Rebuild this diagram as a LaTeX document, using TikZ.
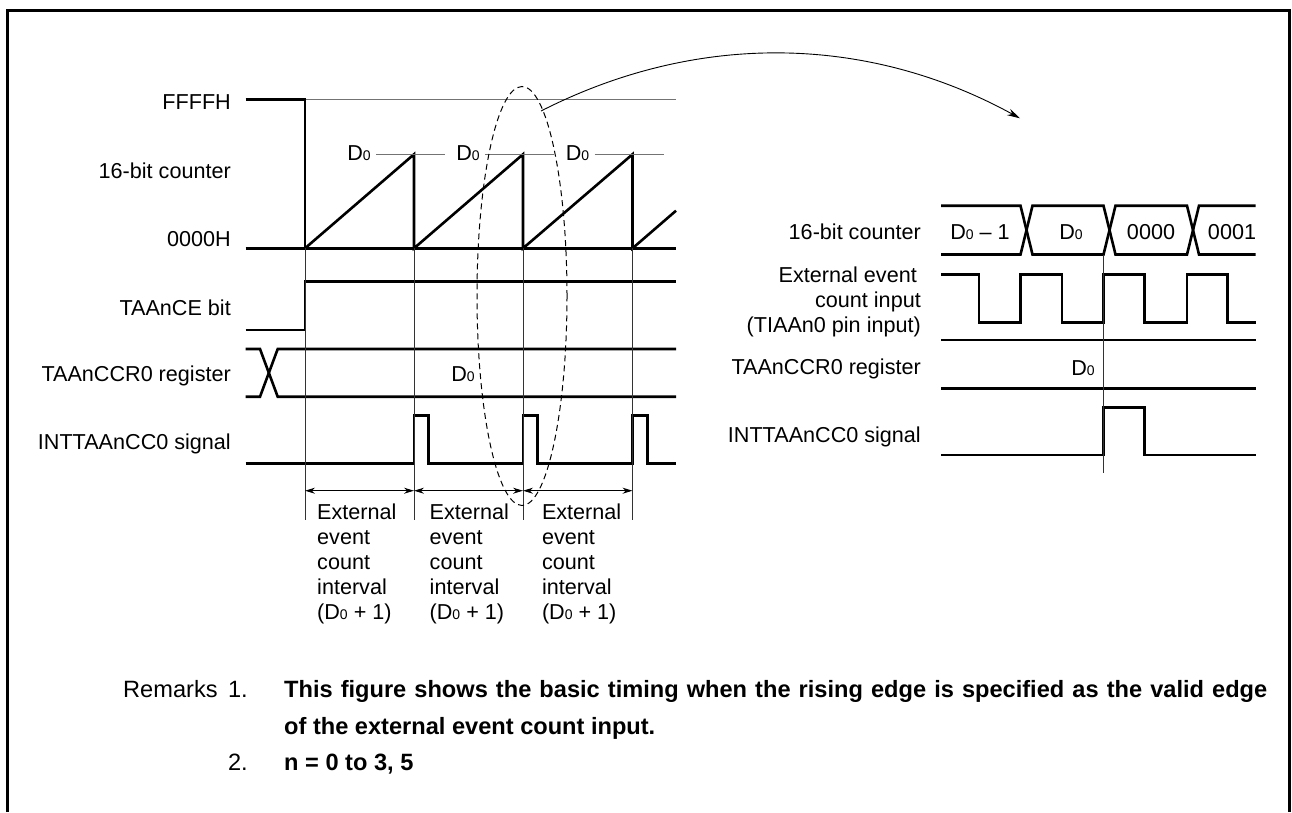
\documentclass[tikz,border=0pt]{standalone}
\usepackage{fontspec}
\setmainfont{Liberation Sans}
\usepackage{tikz}
\usetikzlibrary{arrows.meta,positioning,calc}

\newcommand{\Dz}{D{\fontsize{14}{14}\selectfont 0}}

\begin{document}
\begin{tikzpicture}[
  x=1pt, y=-1pt,
  lbl/.style={anchor=base east, inner sep=0pt, font=\fontsize{21.6}{25}\selectfont},
  val/.style={anchor=base, inner sep=0pt, font=\fontsize{21.6}{25}\selectfont},
  note/.style={anchor=north west, inner sep=0pt, align=left, font=\fontsize{21.6}{25}\selectfont},
  rmk/.style={anchor=base west, inner sep=0pt, font=\fontsize{23.6}{28}\selectfont\bfseries},
  rmkno/.style={inner sep=0pt, font=\fontsize{23.6}{28}\selectfont},
  sig/.style={line width=2.6pt, line join=miter},
  level/.style={line width=1pt, black!55},
  guide/.style={line width=0.9pt, black!80},
  span/.style={{Stealth[length=10pt,width=6pt]}-{Stealth[length=10pt,width=6pt]}, line width=0.9pt},
  zoomarr/.style={-{Stealth[length=13pt,width=7pt]}, line width=0.9pt}
]
  \useasboundingbox (0,0) rectangle (1292,812);
  \draw[line width=3.5pt] (7.5,812) -- (7.5,10.5) -- (1289.5,10.5) -- (1289.5,812);

  \node[lbl] (ffff) at (231,109) {FFFFH};
  \node[lbl] (cntl) at (231,178) {16-bit counter};
  \node[lbl] (zero) at (231,246.5) {0000H};
  \node[lbl] (ceb) at (231,315) {TAAnCE bit};
  \node[lbl] (ccrl) at (231,381.5) {TAAnCCR0 register};
  \node[lbl] (intl) at (231,449) {INTTAAnCC0 signal};

  \draw[level] (305,99.3) -- (676,99.3);
  \draw[sig] (245.5,99.3) -- (305,99.3) -- (305,248.3);
  \draw[sig] (245.5,248.3) -- (676,248.3);
  \draw[sig] (305,248.3) -- (414,154.3) -- (414,248.3) -- (523,154.3) -- (523,248.3)
    -- (632.5,154.3) -- (632.5,248.3) -- (676,210.7);
  \foreach \p [count=\i] in {414,523,632.5} {
    \node[val] (dz\i) at (\p-55,160) {\Dz};
    \draw[level] (\p-38,154.3) -- (\p+31,154.3);
  }

  \draw[sig] (245.5,330) -- (305,330) -- (305,281.7) -- (676,281.7);

  \draw[sig] (245.5,349) -- (260,349) -- (277.7,396.7) -- (676,396.7);
  \draw[sig] (245.5,396.7) -- (260,396.7) -- (277.7,349) -- (676,349);
  \node[val] (ccrv) at (463,381.5) {\Dz};

  \draw[sig] (245.5,463.3) -- (414,463.3) -- (414,415.7) -- (428.7,415.7) -- (428.7,463.3)
    -- (523,463.3) -- (523,415.7) -- (537.7,415.7) -- (537.7,463.3)
    -- (632.5,463.3) -- (632.5,415.7) -- (647.2,415.7) -- (647.2,463.3) -- (676,463.3);

  \foreach \x [count=\i from 0] in {305,414,523,632.5} {
    \draw[guide] (\x,248.3) -- (\x,520);
    \coordinate (t\i) at (\x,490.7);
  }
  \draw[span] (t0) -- (t1);
  \draw[span] (t1) -- (t2);
  \draw[span] (t2) -- (t3);
  \node[note] (iv1) at (317,504) {External\\event\\count\\interval\\(\Dz\ + 1)};
  \node[note] (iv2) at (429.5,504) {External\\event\\count\\interval\\(\Dz\ + 1)};
  \node[note] (iv3) at (541.8,504) {External\\event\\count\\interval\\(\Dz\ + 1)};

  \draw[line width=1pt, dash pattern=on 6pt off 4pt] (522,296) ellipse [x radius=45pt, y radius=209.5pt];
  \coordinate (zoomfrom) at (541,111);
  \coordinate (zoomto) at (1020,118.3);
  \draw[zoomarr] (zoomfrom) .. controls (700,30) and (870,36) .. (zoomto);

  \node[lbl] (cntr) at (921,239) {16-bit counter};
  \node[lbl, align=right, anchor=north east] (inr) at (921,267) {External event\hspace*{4pt}\\count input\\(TIAAn0 pin input)};
  \node[lbl] (ccrr) at (921,374.3) {TAAnCCR0 register};
  \node[lbl] (intr) at (921,442.7) {INTTAAnCC0 signal};

  \draw[sig] (941,205.7) -- (1020.5,205.7) -- (1032.5,254.5) -- (1103.5,254.5) -- (1115.5,205.7)
    -- (1187,205.7) -- (1199,254.5) -- (1255.5,254.5);
  \draw[sig] (941,254.5) -- (1020.5,254.5) -- (1032.5,205.7) -- (1103.5,205.7) -- (1115.5,254.5)
    -- (1187,254.5) -- (1199,205.7) -- (1255.5,205.7);
  \node[val] (bus1) at (980,239) {\Dz\ – 1};
  \node[val] (bus2) at (1071,239) {\Dz};
  \node[val] (bus3) at (1151,239) {0000};
  \node[val] (bus4) at (1232,239) {0001};

  \draw[sig] (941,274.3) -- (979,274.3) -- (979,322.5) -- (1020.5,322.5) -- (1020.5,274.3)
    -- (1062,274.3) -- (1062,322.5) -- (1103.5,322.5) -- (1103.5,274.3) -- (1144.5,274.3)
    -- (1144.5,322.5) -- (1187,322.5) -- (1187,274.3) -- (1227.5,274.3) -- (1227.5,322.5) -- (1255.5,322.5);

  \draw[sig] (941,340) -- (1255.5,340);
  \draw[sig] (941,388.5) -- (1255.5,388.5);
  \node[val] (ccrrv) at (1083,375) {\Dz};

  \draw[sig] (941,455) -- (1103.5,455) -- (1103.5,407.3) -- (1144.5,407.3) -- (1144.5,455) -- (1255.5,455);
  \draw[guide] (1103.5,254.5) -- (1103.5,472.7);

  \node[rmkno, anchor=base west] (rem) at (123,697.7) {Remarks};
  \node[rmkno, anchor=base east] (rem1) at (248,697.7) {1.};
  \node[rmkno, anchor=base east] (rem2) at (248,770) {2.};
  \node[rmk] (r1a) at (284,697.7) {\makebox[983pt][s]{This figure shows the basic timing when the rising edge is specified as the valid edge}};
  \node[rmk] (r1b) at (284,734.3) {of the external event count input.};
  \node[rmk] (r2) at (284,770) {n = 0 to 3, 5};
\end{tikzpicture}
\end{document}
